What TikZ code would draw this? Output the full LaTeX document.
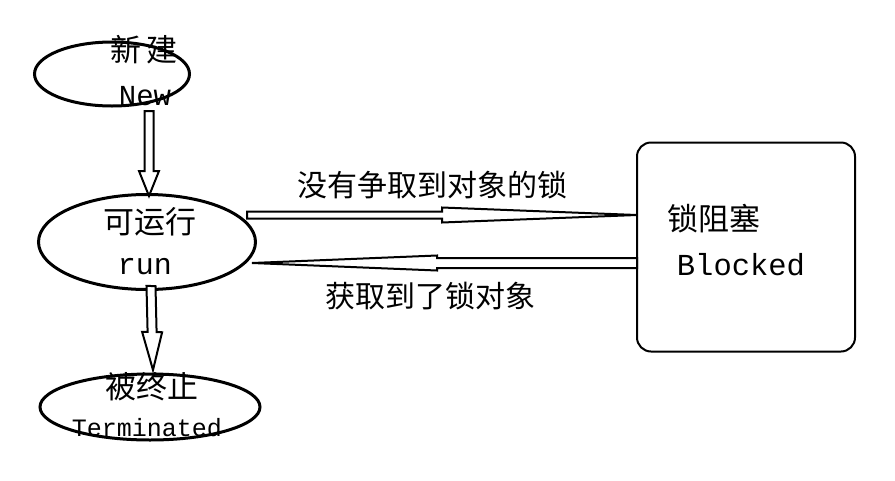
\documentclass[tikz,border=0pt]{standalone}
\usepackage{fontspec}
\setmainfont{Liberation Mono}
\newfontfamily\cjk{Noto Sans CJK SC}
\usetikzlibrary{shapes.geometric, calc}
\newcommand{\blockarrow}[5]{%
  \draw[blockarrow] let \p1=(#1), \p2=(#2),
    \n1={atan2(\y2-\y1,\x2-\x1)}, \n2={veclen(\x2-\x1,\y2-\y1)} in
    ($(\p1)+(\n1+90:#3)$) -- ($(\p1)+(\n1:\n2-#5)+(\n1+90:#3)$)
    -- ($(\p1)+(\n1:\n2-#5)+(\n1+90:#4)$) -- (\p2)
    -- ($(\p1)+(\n1:\n2-#5)+(\n1-90:#4)$) -- ($(\p1)+(\n1:\n2-#5)+(\n1-90:#3)$)
    -- ($(\p1)+(\n1-90:#3)$) -- cycle;}
\begin{document}
\begin{tikzpicture}[x=1pt, y=-1pt,
    state/.style={ellipse, draw, line width=3pt, inner sep=0pt, align=center},
    blockbox/.style={rectangle, draw, line width=2pt, rounded corners=14pt, minimum width=218pt, minimum height=209pt, align=center},
    blockarrow/.style={draw, fill=white, line width=2pt, line join=miter},
    lbl/.style={font=\cjk\fontsize{30}{34}\selectfont}
]
    \useasboundingbox (0,0) rectangle (895,480);
    \node[state, minimum width=155pt, minimum height=64pt] (new) at (112,74) {};
    \node[state, minimum width=217pt, minimum height=95pt] (run) at (147,242) {};
    \node[state, minimum width=220pt, minimum height=66pt] (term) at (150,407) {};
    \node[blockbox] (blocked) at (746,247) {};
    % texts
    \node[font=\cjk\fontsize{31}{34}\selectfont] (newzh) at (144,50) {新\,建};
    \node[font=\fontsize{29}{32}\selectfont] (newen) at (145,96) {New};
    \node[font=\cjk\fontsize{31}{34}\selectfont] (runzh) at (150,222) {可运行};
    \node[font=\fontsize{30}{32}\selectfont] (runen) at (145,267) {run};
    \node[font=\cjk\fontsize{31}{34}\selectfont] (termzh) at (152,387) {被终止};
    \node[font=\fontsize{25}{28}\selectfont] (termen) at (147,428) {Terminated};
    \node[font=\cjk\fontsize{31}{34}\selectfont] (blzh) at (714,219) {锁阻塞};
    \node[font=\fontsize{30.5}{32}\selectfont] (blen) at (741,265) {Blocked};
    % arrows
    \coordinate (a1) at (149,111);
    \coordinate (a2) at (149,196);
    \coordinate (b1) at (151,286);
    \coordinate (b2) at (153,370);
    \coordinate (c1) at (247,215);
    \coordinate (c2) at (637,215);
    \coordinate (d1) at (637,263);
    \coordinate (d2) at (252,263);
    \blockarrow{a1}{a2}{4.5}{10}{25}
    \blockarrow{b1}{b2}{4.5}{10}{38}
    \blockarrow{c1}{c2}{3.5}{7.5}{195}
    \blockarrow{d1}{d2}{5}{7.5}{185}
    \node[lbl] (lost) at (432,185) {没有争取到对象的锁};
    \node[lbl] (got) at (430,296) {获取到了锁对象};
\end{tikzpicture}
\end{document}
